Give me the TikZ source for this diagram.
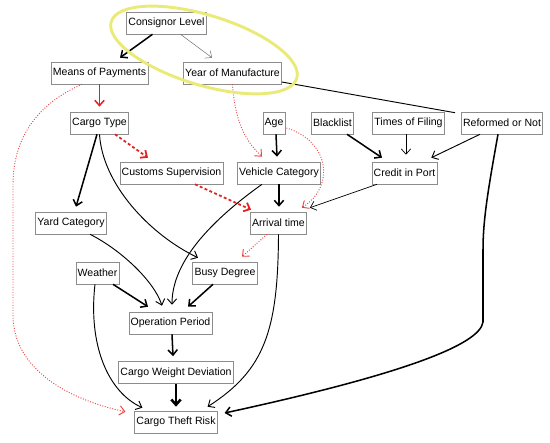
\documentclass[tikz,border=0pt]{standalone}
\usepackage{fontspec}
\setmainfont{Liberation Sans}
\usepackage{tikz}
\usetikzlibrary{arrows.meta, calc}
\definecolor{bnred}{RGB}{228,32,32}
\definecolor{bnyellow}{RGB}{234,234,120}

\begin{document}
\begin{tikzpicture}[x=0.03cm, y=-0.03cm,
    var/.style={draw=black!45, line width=0.5pt, font=\fontsize{9}{10}\selectfont,
        inner xsep=1.5pt, inner ysep=0pt, minimum height=0.66cm},
    link/.style={-{Straight Barb[length=4.5pt, width=8pt]}, line width=0.8pt},
    strong/.style={link, line width=1.3pt},
    redlink/.style={link, bnred, line width=1.3pt},
    reddash/.style={link, bnred, line width=1.5pt, dash pattern=on 2.5pt off 2pt},
    reddot/.style={link, bnred!85, line width=0.8pt, dash pattern=on 0.8pt off 1.4pt}]
    \useasboundingbox (0,0) rectangle (550,443);

    % --- variables ---
    \node[var] (cl)  at (166.5, 23)  {Consignor Level};
    \node[var] (mp)  at (99.5, 73)   {Means of Payments};
    \node[var] (ym)  at (232.5, 73)  {Year of Manufacture};
    \node[var] (ct)  at (99.5, 123)  {Cargo Type};
    \node[var] (age) at (274, 123)   {Age};
    \node[var] (bl)  at (332.5, 123) {Blacklist};
    \node[var] (tf)  at (408.5, 123) {Times of Filing};
    \node[var] (ro)  at (502, 123)   {Reformed or Not};
    \node[var] (cs)  at (171.5, 173) {Customs Supervision};
    \node[var] (vc)  at (279, 173)   {Vehicle Category};
    \node[var] (cp)  at (404.5, 173) {Credit in Port};
    \node[var] (yc)  at (71, 223)    {Yard Category};
    \node[var] (at)  at (278.5, 223) {Arrival time};
    \node[var] (we)  at (97.5, 273)  {Weather};
    \node[var] (bd)  at (225, 273)   {Busy Degree};
    \node[var] (op)  at (170.5, 323) {Operation Period};
    \node[var] (cw)  at (176, 372.5) {Cargo Weight Deviation};
    \node[var] (tr)  at (176, 422)   {Cargo Theft Risk};

    % --- top rows ---
    \draw[strong] ($(cl.south)+(-14,0)$) -- ($(mp.north)+(20.5,-4)$);
    \draw[link, line width=0.4pt, black!60] ($(cl.south)+(14,0)$) -- ($(ym.north)+(-20.5,-4)$);
    \draw[line width=0.8pt] ($(ym.east)+(0,9)$) -- ($(ro.north west)+(-6,1)$);
    \draw[redlink] (mp.south) -- ($(ct.north)+(0,-5)$);
    \draw[reddot] ($(mp.south)+(-17.5,0)$) .. controls (35,105) and (13,140) .. (13,185)
        -- (13,315) .. controls (13,370) and (70,400) .. ($(tr.north west)+(-9,1)$);
    \draw[reddot] (ym.south) .. controls +(3,45) and +(-12,-12) .. ($(vc.north)+(-17,-5)$);

    % --- cargo type ---
    \draw[reddash] ($(ct.south)+(15.5,0)$) -- ($(cs.north)+(-23.5,-4)$);
    \draw[strong] ($(ct.south)+(-2.5,0)$) -- ($(yc.north)+(5,-5)$);
    \draw[link] ($(ct.south)+(0,0)$) .. controls +(3,50) and +(-48,-23) .. ($(bd.north)+(-27,-4)$);

    % --- age, blacklist, filing, reform ---
    \draw[strong] ($(age.south)+(2,0)$) -- ($(vc.north)+(-2,-5)$);
    \draw[reddot] ($(age.east)+(1,5)$) .. controls +(41,12) and +(35,-23) .. ($(at.north east)+(-5,-4)$);
    \draw[strong] ($(bl.south)+(14.5,0)$) -- ($(cp.north)+(-22.5,-4)$);
    \draw[link, line width=0.6pt] ($(tf.south)+(-2.5,0)$) -- ($(cp.north)+(1.5,-7)$);
    \draw[link] ($(ro.south)+(-22,0)$) -- ($(cp.north east)+(-6,-4)$);
    \draw[strong] ($(ro.south)+(-4,0)$) .. controls (488,190) and (483,220) .. (483,250)
        -- (483,322) .. controls (480,345) and (400,375) .. ($(tr.east)+(7,-9)$);

    % --- middle rows ---
    \draw[reddash] ($(cs.south)+(23.5,0)$) -- ($(at.north west)+(1,-2)$);
    \draw[strong] (vc.south) -- ($(at.north)+(0.5,-5)$);
    \draw[link, line width=0.6pt] ($(cp.south)+(-27.5,0)$) -- ($(at.north east)+(3,-4)$);
    \draw[link] ($(vc.south)+(-17,0)$) .. controls (205,225) and (172,265) .. ($(op.north)+(1.5,-7)$);
    \draw[reddot] ($(at.south)+(-11.5,0)$) -- ($(bd.north)+(17,-5)$);
    \draw[link] (at.south) .. controls (278,330) and (265,370) .. ($(tr.north east)+(-10,-4)$);

    % --- into operation period ---
    \draw[strong] ($(we.south)+(15.5,0)$) -- ($(op.north)+(-22.5,-5)$);
    \draw[link] ($(yc.south)+(19,0)$) .. controls +(30,15) and +(-8,-25) .. ($(op.north)+(-8.5,-6)$);
    \draw[strong] ($(bd.south)+(-12,0)$) -- ($(op.north)+(17.5,-5)$);
    \draw[link] ($(we.south)+(-2.5,0)$) .. controls (88,345) and (108,392) .. ($(tr.north west)+(8,-3)$);

    % --- bottom chain ---
    \draw[strong] ($(op.south)+(1.5,0)$) -- ($(cw.north)+(-3,-5)$);
    \draw[link, line width=2.2pt] (cw.south) -- ($(tr.north)+(0,-4)$);

    % --- highlighted pair ---
    \draw[bnyellow, line width=2.5pt, rotate around={-17:(204,50)}]
        (204,50) ellipse [x radius=97, y radius=35];
\end{tikzpicture}
\end{document}
